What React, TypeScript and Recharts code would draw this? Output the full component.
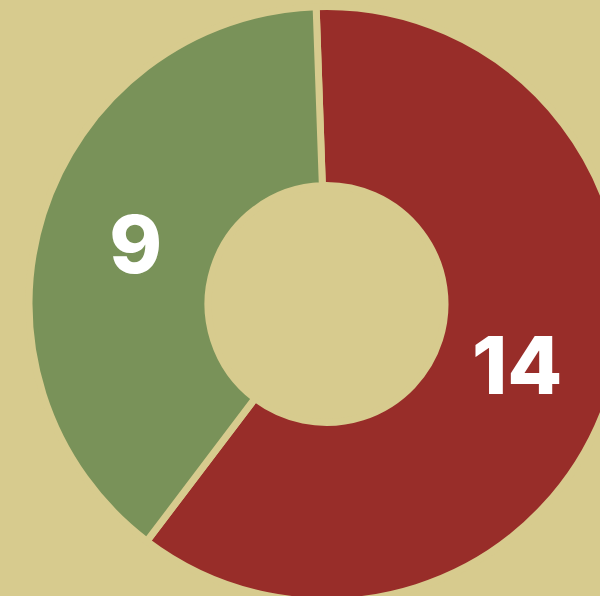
import { PieChart, Pie, Cell } from "recharts";

const categories = ["Red", "Green"];
const values = [14, 9];
const colors = ["#982d29", "#799259"];

const bg = "#d7cb8e";
const RAD = Math.PI / 180;

const pieData = categories.map((name, i) => ({ name, value: values[i] }));

const renderLabel = (props: any) => {
  const { cx, cy, midAngle, value } = props;
  const r = 200;
  const x = cx + r * Math.cos(-midAngle * RAD);
  const y = cy + r * Math.sin(-midAngle * RAD);
  return (
    <text
      x={x}
      y={y}
      fill="#ffffff"
      textAnchor="middle"
      dominantBaseline="central"
      fontFamily="Inter, 'Open Sans', sans-serif"
      fontWeight={800}
      fontSize={80}
    >
      {value}
    </text>
  );
};

const App = () => {
  return (
    <div
      style={{
        position: "fixed",
        top: 0,
        left: 0,
        width: 600,
        height: 596,
        overflow: "hidden",
        background: bg,
      }}
    >
      <PieChart width={600} height={596} margin={{ top: 0, right: 0, bottom: 0, left: 0 }}>
        <Pie
          data={pieData}
          dataKey="value"
          nameKey="name"
          cx={326.5}
          cy={304}
          innerRadius={118.5}
          outerRadius={297.5}
          startAngle={92}
          endAngle={-268}
          stroke={bg}
          strokeWidth={7}
          label={renderLabel}
          labelLine={false}
          isAnimationActive={false}
        >
          {pieData.map((d, i) => (
            <Cell key={d.name} fill={colors[i]} />
          ))}
        </Pie>
      </PieChart>
    </div>
  );
};

export default App;
